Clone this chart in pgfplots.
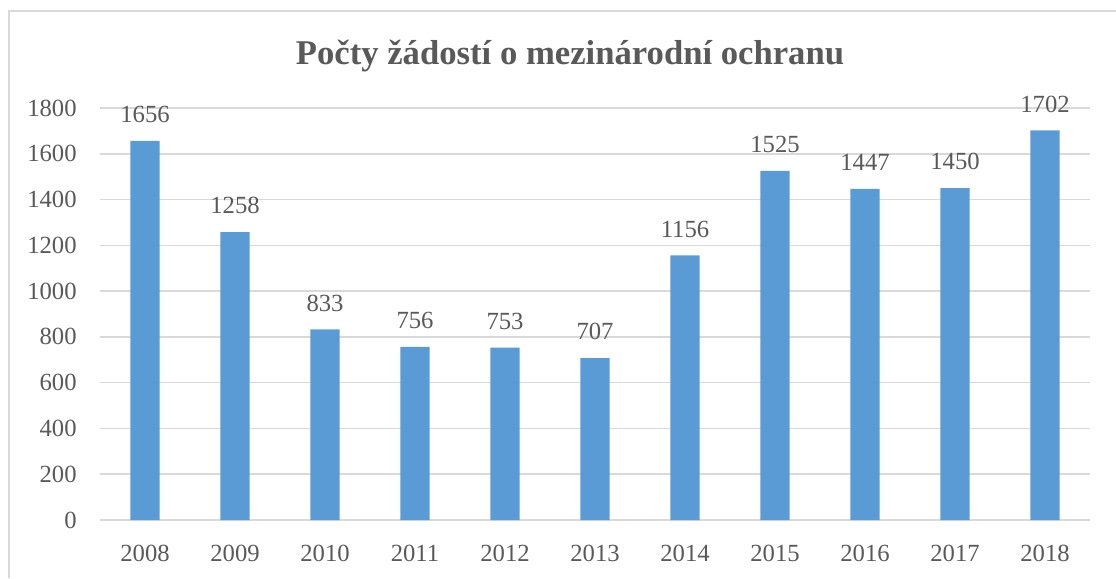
\documentclass[border=0pt]{standalone}
\usepackage{fontspec}
\setmainfont{Liberation Serif}
\usepackage{pgfplots}
\pgfplotsset{compat=1.18}
\definecolor{barblue}{HTML}{5B9BD5}
\definecolor{gridgray}{HTML}{D9D9D9}
\definecolor{txt}{HTML}{595959}
\begin{document}
\begin{tikzpicture}
\useasboundingbox (0,0) rectangle (837pt,433.5pt);
\draw[gridgray, line width=1pt] (6.75pt,0) -- (6.75pt,425.25pt) -- (837pt,425.25pt);
\node[text=txt, font=\fontsize{26}{26}\bfseries\selectfont] at (427.5pt,391.5pt) {Počty žádostí o mezinárodní ochranu};
\begin{axis}[at={(75pt,43.5pt)}, anchor=south west, scale only axis,
  width=742.5pt, height=309pt,
  ymin=0, ymax=1800, xmin=-0.5, xmax=10.5,
  ytick={0,200,...,1800},
  xtick=data,
  xticklabels={2008,2009,2010,2011,2012,2013,2014,2015,2016,2017,2018},
  ymajorgrids, grid style={gridgray, line width=1.2pt},
  axis line style={draw=none},
  major tick length=0pt,
  /pgf/number format/assume math mode=true,
  /pgf/number format/1000 sep={},
  tick label style={font=\fontsize{18.5}{18.5}\selectfont, text=txt},
  yticklabel style={xshift=-14pt},
  xticklabel style={yshift=-15pt},
  ybar, bar width=22pt,
  nodes near coords,
  every node near coord/.append style={font=\fontsize{18.5}{18.5}\selectfont, text=txt, yshift=10pt},
  clip=false,
]
\addplot[fill=barblue, draw=none] coordinates {
(0,1656) (1,1258) (2,833) (3,756) (4,753) (5,707) (6,1156) (7,1525) (8,1447) (9,1450) (10,1702)};
\end{axis}
\end{tikzpicture}
\end{document}
